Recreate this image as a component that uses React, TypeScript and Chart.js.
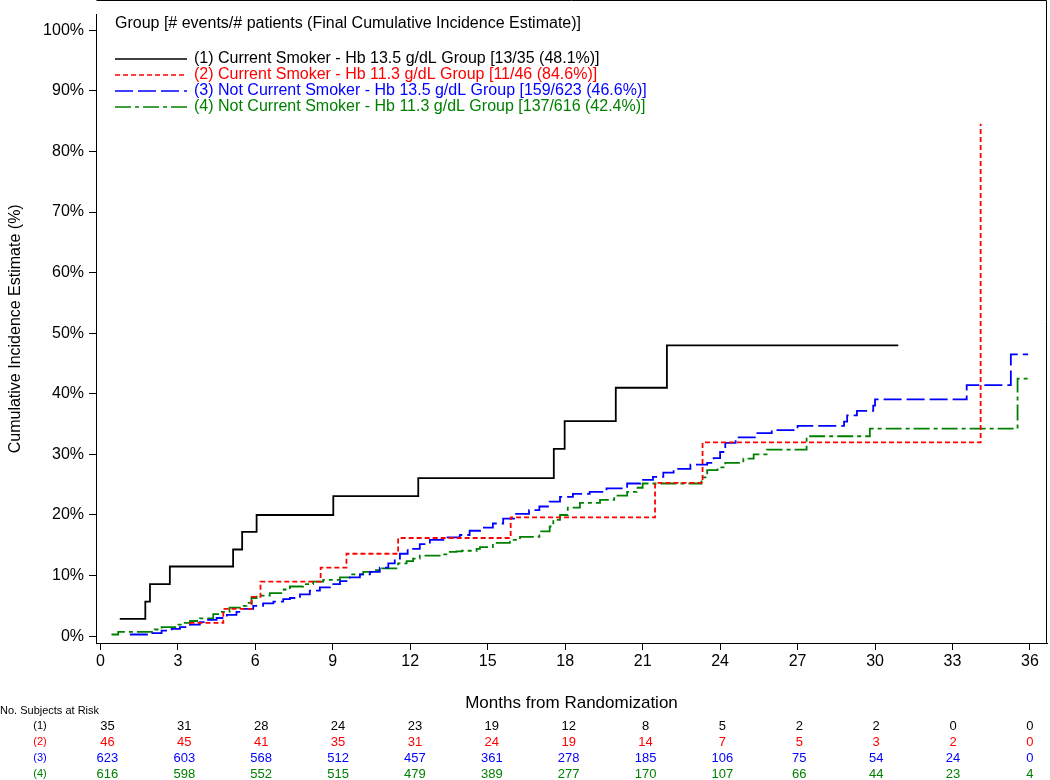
import React, { useEffect, useRef } from "react";
import { Chart, registerables } from "chart.js";

Chart.register(...registerables);

const FONT = '"Liberation Sans", Arial, sans-serif';

const legendHeader = "Group [# events/# patients (Final Cumulative Incidence Estimate)]";
const groupLabels = [
  "(1) Current Smoker - Hb 13.5 g/dL Group [13/35 (48.1%)]",
  "(2) Current Smoker - Hb 11.3 g/dL Group [11/46 (84.6%)]",
  "(3) Not Current Smoker - Hb 13.5 g/dL Group [159/623 (46.6%)]",
  "(4) Not Current Smoker - Hb 11.3 g/dL Group [137/616 (42.4%)]",
];
const groupTags = ["(1)", "(2)", "(3)", "(4)"];
const groupColors = ["#000000", "#ff0000", "#0000ff", "#008000"];
const groupDashes: number[][] = [[], [5, 3], [18, 5], [16, 4, 4, 4]];

const xTitle = "Months from Randomization";
const yTitle = "Cumulative Incidence Estimate (%)";
const atRiskTitle = "No. Subjects at Risk";

const xTicks = [0, 3, 6, 9, 12, 15, 18, 21, 24, 27, 30, 33, 36];
const yTicks = [0, 10, 20, 30, 40, 50, 60, 70, 80, 90, 100];

// Group 1
const g1Months = [0.75, 1.74, 1.92, 2.69, 5.14, 5.49, 6.05, 9.02, 12.31, 17.56, 17.98, 19.96, 21.94, 30.9];
const g1Pct = [2.86, 5.7, 8.6, 11.5, 14.3, 17.2, 20.0, 23.1, 26.1, 30.9, 35.5, 41.0, 48.0, 48.0];

// Group 2
const g2Months = [3.45, 4.76, 5.86, 6.2, 8.53, 9.53, 11.53, 15.89, 21.48, 23.32, 34.09];
const g2Pct = [2.2, 4.5, 6.5, 9.0, 11.3, 13.6, 16.2, 19.6, 25.3, 32.0, 84.6];

// Group 3
const g3Months = [1.14, 1.9, 2.37, 2.76, 3.08, 3.47, 3.85, 4.17, 4.5, 4.9, 5.27, 5.5, 5.92, 6.3, 6.7, 7.08, 7.34, 7.73, 8.11, 8.5, 8.89, 9.28, 9.66, 10.05, 10.44, 10.82, 11.15, 11.4, 11.6, 11.9, 12.37, 12.76, 13.28, 13.92, 14.3, 14.7, 15.2, 15.6, 16.1, 16.6, 17.0, 17.4, 17.8, 18.3, 18.95, 19.6, 20.4, 20.9, 21.4, 21.8, 22.2, 22.85, 23.5, 23.75, 24.0, 24.2, 24.6, 25.4, 26.0, 27.0, 28.8, 28.92, 29.3, 29.93, 30.0, 33.55, 35.26, 35.93];
const g3Pct = [0.27, 0.5, 0.9, 1.2, 1.5, 1.9, 2.3, 2.7, 3.0, 3.5, 4.0, 4.5, 5.0, 5.4, 5.7, 6.1, 6.3, 6.9, 7.5, 8.05, 8.6, 9.1, 9.7, 10.2, 10.6, 11.3, 12.0, 12.8, 13.6, 14.4, 15.2, 15.9, 16.3, 16.7, 17.4, 17.9, 18.6, 19.4, 20.2, 20.8, 21.4, 22.2, 23.0, 23.5, 23.8, 24.4, 25.2, 25.8, 26.3, 27.0, 27.6, 28.3, 28.6, 29.4, 30.4, 31.9, 32.8, 33.5, 34.0, 34.7, 35.4, 36.45, 37.2, 38.06, 39.1, 41.45, 46.5, 46.5];

// Group 4
const g4Months = [0.43, 0.69, 2.1, 2.37, 2.9, 3.2, 3.47, 3.85, 4.37, 4.6, 5.0, 5.4, 5.66, 5.85, 6.05, 6.56, 7.1, 7.34, 7.85, 8.24, 8.63, 9.28, 9.66, 10.18, 10.57, 10.82, 11.53, 11.86, 12.11, 12.37, 13.28, 13.4, 13.79, 14.0, 14.57, 14.7, 15.2, 15.86, 16.25, 17.0, 17.4, 17.54, 17.8, 18.1, 18.57, 19.35, 19.9, 20.4, 20.77, 21.0, 23.28, 23.5, 23.9, 24.2, 24.9, 25.3, 25.8, 27.35, 29.8, 35.52, 36.06];
const g4Pct = [0.27, 0.7, 1.1, 1.5, 1.9, 2.2, 2.5, 2.95, 3.65, 4.0, 4.7, 5.0, 5.5, 6.3, 6.7, 7.1, 7.7, 8.2, 8.6, 9.0, 9.3, 9.7, 10.2, 10.6, 10.9, 11.2, 12.0, 12.4, 12.8, 13.3, 13.5, 13.9, 14.0, 14.1, 14.4, 14.7, 15.4, 15.9, 16.4, 17.3, 18.1, 19.2, 20.0, 21.2, 22.0, 22.5, 23.2, 23.8, 24.5, 25.2, 26.2, 27.4, 27.85, 28.6, 29.3, 30.0, 30.8, 33.0, 34.25, 42.5, 42.5];

// Numbers at risk
const atRiskMonths = [0, 3, 6, 9, 12, 15, 18, 21, 24, 27, 30, 33, 36];
const atRisk1 = [35, 31, 28, 24, 23, 19, 12, 8, 5, 2, 2, 0, 0];
const atRisk2 = [46, 45, 41, 35, 31, 24, 19, 14, 7, 5, 3, 2, 0];
const atRisk3 = [623, 603, 568, 512, 457, 361, 278, 185, 106, 75, 54, 24, 0];
const atRisk4 = [616, 598, 552, 515, 479, 389, 277, 170, 107, 66, 44, 23, 4];

const seriesMonths = [g1Months, g2Months, g3Months, g4Months];
const seriesPct = [g1Pct, g2Pct, g3Pct, g4Pct];
const atRiskRows = [atRisk1, atRisk2, atRisk3, atRisk4];

const overlayPlugin = {
  id: "overlay",
  afterDraw(chart: any) {
    const { ctx, chartArea: ca, scales } = chart;
    ctx.save();
    // top and right frame
    ctx.strokeStyle = "#000";
    ctx.lineWidth = 1;
    ctx.setLineDash([]);
    ctx.beginPath();
    ctx.moveTo(Math.round(ca.left) + 0.5, 0.5);
    ctx.lineTo(Math.round(ca.right) - 0.5, 0.5);
    ctx.lineTo(Math.round(ca.right) - 0.5, Math.round(ca.bottom));
    ctx.stroke();

    // legend
    ctx.fillStyle = "#000";
    ctx.font = `16px ${FONT}`;
    ctx.textBaseline = "middle";
    ctx.textAlign = "left";
    ctx.fillText(legendHeader, 115, 24);
    const rowY = [59, 75, 91, 107];
    groupLabels.forEach((lab, i) => {
      ctx.strokeStyle = groupColors[i];
      ctx.lineWidth = 1.6;
      ctx.setLineDash(groupDashes[i]);
      ctx.beginPath();
      ctx.moveTo(115, rowY[i]);
      ctx.lineTo(187, rowY[i]);
      ctx.stroke();
      ctx.setLineDash([]);
      ctx.fillStyle = groupColors[i];
      ctx.fillText(lab, 194, rowY[i]);
    });

    // y title
    ctx.save();
    ctx.translate(16, (ca.top + ca.bottom) / 2);
    ctx.rotate(-Math.PI / 2);
    ctx.textAlign = "center";
    ctx.fillStyle = "#000";
    ctx.font = `16px ${FONT}`;
    ctx.fillText(yTitle, 0, 0);
    ctx.restore();

    // x title
    ctx.textAlign = "center";
    ctx.fillStyle = "#000";
    ctx.font = `17px ${FONT}`;
    ctx.fillText(xTitle, (ca.left + ca.right) / 2, 703);

    // at risk table
    ctx.textAlign = "left";
    ctx.font = `11px ${FONT}`;
    ctx.fillText(atRiskTitle, 0, 711);
    const tableY = [726, 742, 758, 774];
    const xs = scales.x;
    atRiskRows.forEach((row, i) => {
      ctx.fillStyle = groupColors[i];
      ctx.font = `11px ${FONT}`;
      ctx.textAlign = "center";
      ctx.fillText(groupTags[i], 40, tableY[i]);
      ctx.font = `13px ${FONT}`;
      row.forEach((v, j) => {
        const m = atRiskMonths[j];
        const px = xs.getPixelForValue(m) + 7 * (1 - m / 36);
        ctx.fillText(String(v), px, tableY[i]);
      });
    });
    ctx.restore();
  },
};

export default function App() {
  const ref = useRef<HTMLCanvasElement | null>(null);
  useEffect(() => {
    if (!ref.current) return;
    const datasets = seriesMonths.map((months, i) => ({
      label: groupLabels[i],
      data: months.map((m, k) => ({ x: m, y: seriesPct[i][k] })),
      borderColor: groupColors[i],
      backgroundColor: groupColors[i],
      borderWidth: 1.8,
      borderDash: groupDashes[i],
      stepped: "before" as const,
      pointRadius: 0,
      fill: false,
    }));
    const chart = new Chart(ref.current, {
      type: "line",
      data: { datasets },
      options: {
        responsive: false,
        animation: false,
        layout: { padding: { top: 0, right: 3, left: 0, bottom: 0 } },
        plugins: { legend: { display: false }, tooltip: { enabled: false } },
        scales: {
          x: {
            type: "linear",
            min: -0.17,
            max: 36.66,
            afterBuildTicks: (s: any) => {
              s.ticks = xTicks.map((v) => ({ value: v }));
            },
            afterFit: (s: any) => {
              s.height = 137;
            },
            grid: { display: true, drawOnChartArea: false, drawTicks: true, tickLength: 7, color: "#000", lineWidth: 1 },
            border: { display: true, color: "#000", width: 1 },
            ticks: { color: "#000", font: { size: 16, family: FONT }, padding: 2, maxRotation: 0, autoSkip: false },
          },
          y: {
            type: "linear",
            min: -1.13,
            max: 102.6,
            afterBuildTicks: (s: any) => {
              s.ticks = yTicks.map((v) => ({ value: v }));
            },
            afterFit: (s: any) => {
              s.width = 96;
            },
            grid: { display: true, drawOnChartArea: false, drawTicks: true, tickLength: 7, color: "#000", lineWidth: 1 },
            border: { display: true, color: "#000", width: 1 },
            ticks: {
              color: "#000",
              font: { size: 16, family: FONT },
              padding: 5,
              autoSkip: false,
              callback: (v: any) => `${v}%`,
            },
          },
        },
      },
      plugins: [overlayPlugin],
    });
    return () => chart.destroy();
  }, []);
  return (
    <div style={{ position: "absolute", left: 0, top: 0, width: 1050, height: 780, background: "#fff" }}>
      <canvas ref={ref} width={1050} height={780} style={{ width: 1050, height: 780 }} />
    </div>
  );
}
